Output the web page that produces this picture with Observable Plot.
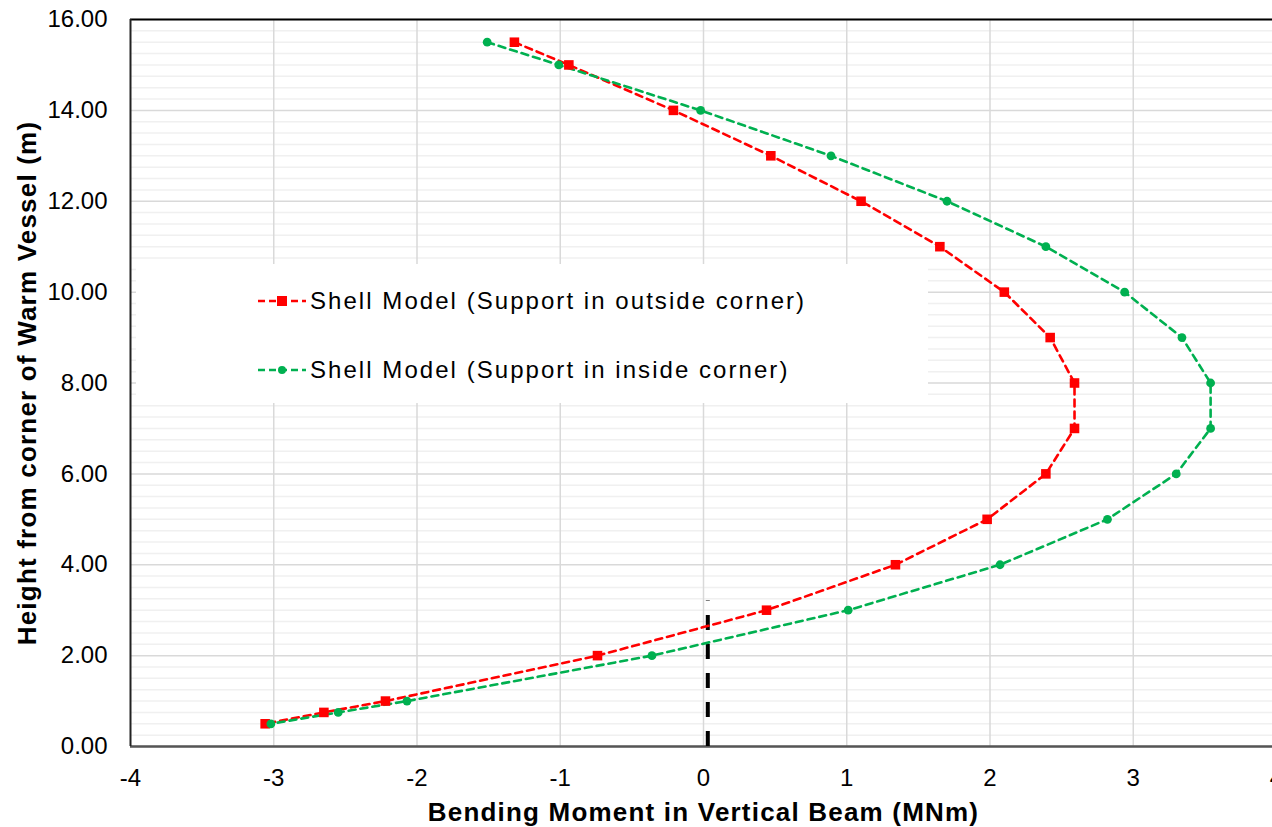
<!DOCTYPE html>
<html>
<head>
<meta charset="utf-8">
<script src="https://cdn.jsdelivr.net/npm/d3@7"></script>
<script src="https://cdn.jsdelivr.net/npm/@observablehq/plot@0.6"></script>
<style>
  html, body { margin: 0; padding: 0; background: #fff; overflow: hidden; }
  #wrap { position: relative; width: 1272px; height: 827px; overflow: hidden; }
  #legend { position: absolute; left: 136px; top: 264px; width: 792px; height: 139px; background: #fff;
    font-family: "Liberation Sans", Arial, sans-serif; font-size: 24px; letter-spacing: 2.05px; color: #000; }
  .row { position: absolute; left: 122px; height: 30px; display: flex; align-items: center; white-space: nowrap; }
  .row svg { display: block; margin-right: 4px; }
</style>
</head>
<body>
<div id="wrap"></div>
<script>
// Data
const heights = [15.5, 15, 14, 13, 12, 11, 10, 9, 8, 7, 6, 5, 4, 3, 2, 1, 0.75, 0.5];
const outsideCorner = [-1.32, -0.94, -0.21, 0.47, 1.10, 1.65, 2.10, 2.42, 2.59, 2.59, 2.39, 1.98, 1.34, 0.44, -0.74, -2.22, -2.65, -3.06];
const insideCorner  = [-1.51, -1.01, -0.02, 0.89, 1.70, 2.39, 2.94, 3.34, 3.54, 3.54, 3.30, 2.82, 2.07, 1.01, -0.36, -2.07, -2.55, -3.02];
const seriesNames = ["Shell Model (Support in outside corner)", "Shell Model (Support in inside corner)"];
const seriesColors = ["#ff0000", "#00b050"];
const xTicks = [-4, -3, -2, -1, 0, 1, 2, 3, 4];
const yTicks = [0, 2, 4, 6, 8, 10, 12, 14, 16];
const yMinorTicks = d3.range(0, 16.01, 0.25).filter(v => v % 2 !== 0);
const refLine = [{x: 0.03, y1: 0, y2: 3.2}];
const xTitle = "Bending Moment in Vertical Beam (MNm)";
const yTitle = "Height from corner of Warm Vessel (m)";

const outside = heights.map((h, i) => ({x: outsideCorner[i], y: h}));
const inside = heights.map((h, i) => ({x: insideCorner[i], y: h}));

const font = '"Liberation Sans", Arial, sans-serif';

const chart = Plot.plot({
  width: 1272,
  height: 827,
  marginLeft: 130,
  marginRight: -4,
  marginTop: 19,
  marginBottom: 81,
  style: {fontFamily: font, fontSize: "24px", color: "#000", background: "#fff", overflow: "visible"},
  x: {domain: [-4, 4]},
  y: {domain: [0, 16]},
  marks: [
    Plot.ruleY(yMinorTicks, {stroke: "#f0f0f0", strokeWidth: 1.5}),
    Plot.ruleY(yTicks, {stroke: "#d9d9d9", strokeWidth: 1.5}),
    Plot.ruleX(xTicks.filter(v => v > -4 && v < 4), {stroke: "#d9d9d9", strokeWidth: 1.5}),
    Plot.ruleY([16], {stroke: "#000", strokeWidth: 2}),
    Plot.ruleY([0], {stroke: "#555", strokeWidth: 2.5}),
    Plot.ruleX([-4], {stroke: "#222", strokeWidth: 2}),
    Plot.ruleX(refLine, {x: "x", y1: "y1", y2: "y2", stroke: "#000", strokeWidth: 4, strokeDasharray: "15,14"}),
    Plot.line(outside, {x: "x", y: "y", stroke: seriesColors[0], strokeWidth: 2.6, strokeDasharray: "7,5"}),
    Plot.line(inside, {x: "x", y: "y", stroke: seriesColors[1], strokeWidth: 2.6, strokeDasharray: "7,5"}),
    Plot.dot(outside, {x: "x", y: "y", symbol: "square", r: 5.4, fill: seriesColors[0], stroke: "none"}),
    Plot.dot(inside, {x: "x", y: "y", symbol: "circle", r: 4.4, fill: seriesColors[1], stroke: "none"}),
    Plot.axisY({ticks: yTicks, tickFormat: d => d.toFixed(2), tickSize: 0, tickPadding: 23, fontSize: 24, label: null}),
    Plot.axisX({ticks: xTicks, tickFormat: d => String(d), tickSize: 0, tickPadding: 22, fontSize: 24, label: null}),
    Plot.text([xTitle], {frameAnchor: "bottom", dy: 66, lineAnchor: "middle", textAnchor: "middle", fontWeight: "bold", fontSize: 26}),
    Plot.text([yTitle], {frameAnchor: "left", dx: -103, rotate: -90, lineAnchor: "middle", textAnchor: "middle", fontWeight: "bold", fontSize: 26})
  ]
});

const wrap = document.getElementById("wrap");
wrap.appendChild(chart);
// letter spacing on the titles
chart.querySelectorAll("text").forEach(t => {
  if (t.textContent === xTitle || t.textContent === yTitle) t.style.letterSpacing = "1.2px";
});

// Legend (HTML overlay with white background)
const legend = document.createElement("div");
legend.id = "legend";
const rowTops = [22, 91];
seriesNames.forEach((name, i) => {
  const row = document.createElement("div");
  row.className = "row";
  row.style.top = rowTops[i] + "px";
  const sw = d3.create("svg").attr("width", 48).attr("height", 20);
  sw.append("line").attr("x1", 0).attr("x2", 48).attr("y1", 10).attr("y2", 10)
    .attr("stroke", seriesColors[i]).attr("stroke-width", 2.5).attr("stroke-dasharray", "7,4");
  if (i === 0) sw.append("rect").attr("x", 19).attr("y", 5).attr("width", 10).attr("height", 10).attr("fill", seriesColors[i]);
  else sw.append("circle").attr("cx", 24).attr("cy", 10).attr("r", 4).attr("fill", seriesColors[i]);
  row.appendChild(sw.node());
  const t = document.createElement("span");
  t.textContent = name;
  row.appendChild(t);
  legend.appendChild(row);
});
wrap.appendChild(legend);
</script>
</body>
</html>
